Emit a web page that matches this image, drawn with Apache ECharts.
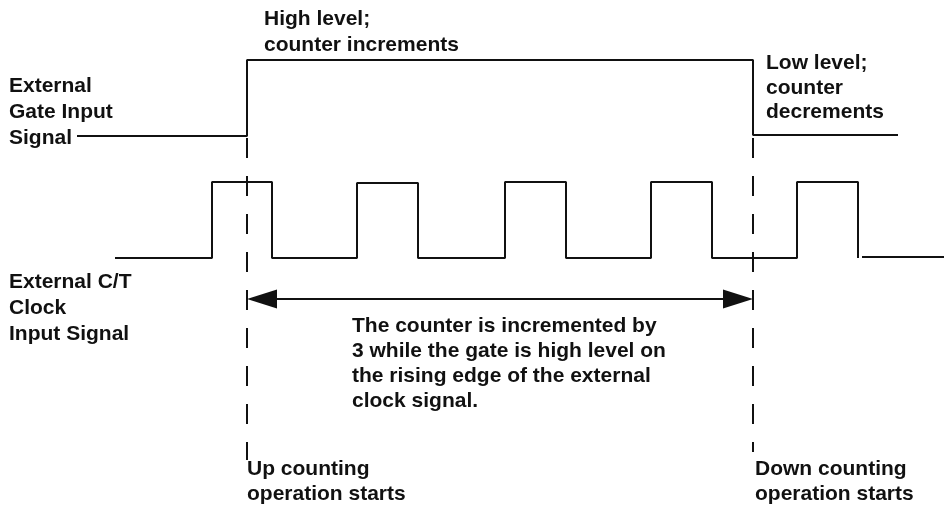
<!DOCTYPE html>
<html>
<head>
<meta charset="utf-8">
<script src="https://cdn.jsdelivr.net/npm/echarts@6/dist/echarts.min.js"></script>
<style>
    html, body { margin: 0; padding: 0; background: #fff; }
    #timing-chart { width: 945px; height: 512px; }
</style>
</head>
<body>
<div id="timing-chart"></div>
<script>
// 门控信号 (x, y) 折点
const gatePoints = [[77, 136], [247, 136], [247, 60], [753, 60], [753, 135], [898, 135]];
// 时钟信号折点, null 断开最后一段
const clockPoints = [
    [115, 258], [212, 258], [212, 182], [272, 182], [272, 258],
    [357, 258], [357, 183], [418, 183], [418, 258],
    [505, 258], [505, 182], [566, 182], [566, 258],
    [651, 258], [651, 182], [712, 182], [712, 258],
    [797, 258], [797, 182], [858, 182], [858, 258],
    null, [862, 257], [944, 257]
];
// 虚线位置
const upMarker = [[247, 62], [247, 460]];
const downMarker = [[753, 62], [753, 452]];
// 双向箭头
const arrowY = 299;
const arrowStart = 247;
const arrowEnd = 753;

const font = 'bold 21px "Liberation Sans", Arial, sans-serif';
const ink = '#111';

function label (left, top, text, lineHeight) {
    return {
        type: 'text',
        left: left,
        top: top,
        style: { text: text, font: font, fill: ink, lineHeight: lineHeight }
    };
}

let myChart = echarts.init(document.getElementById('timing-chart'));

myChart.setOption({
    animation: false,
    grid: { left: 0, right: 0, top: 0, bottom: 0 },
    xAxis: { type: 'value', min: 0, max: 945, show: false },
    yAxis: { type: 'value', min: 0, max: 512, inverse: true, show: false },
    graphic: [
        label(264, 6, 'High level;\ncounter increments', 26),
        label(9, 73, 'External\nGate Input\nSignal', 26),
        label(766, 51, 'Low level;\ncounter\ndecrements', 24.5),
        label(9, 269, 'External C/T\nClock\nInput Signal', 26),
        label(352, 314, 'The counter is incremented by\n3 while the gate is high level on\nthe rising edge of the external\nclock signal.', 25),
        label(247, 456, 'Up counting\noperation starts', 25.5),
        label(755, 456, 'Down counting\noperation starts', 25.5)
    ],
    series: [
        {
            name: 'gate',
            type: 'line',
            data: gatePoints,
            symbol: 'none',
            lineStyle: { color: ink, width: 2 }
        },
        {
            name: 'clock',
            type: 'line',
            data: clockPoints,
            symbol: 'none',
            connectNulls: false,
            lineStyle: { color: ink, width: 2 }
        },
        {
            name: 'up',
            type: 'line',
            data: upMarker,
            symbol: 'none',
            lineStyle: { color: ink, width: 2, type: [20, 18] }
        },
        {
            name: 'down',
            type: 'line',
            data: downMarker,
            symbol: 'none',
            lineStyle: { color: ink, width: 2, type: [20, 18] }
        },
        {
            name: 'arrow',
            type: 'line',
            data: [],
            markLine: {
                silent: true,
                symbol: ['triangle', 'triangle'],
                symbolSize: [19, 30],
                label: { show: false },
                lineStyle: { color: ink, width: 2, type: 'solid' },
                itemStyle: { color: ink },
                data: [[
                    { coord: [arrowStart + 15, arrowY] },
                    { coord: [arrowEnd - 15, arrowY] }
                ]]
            }
        }
    ]
});
window.addEventListener('resize', function () {
    myChart.resize();
});
</script>
</body>
</html>
